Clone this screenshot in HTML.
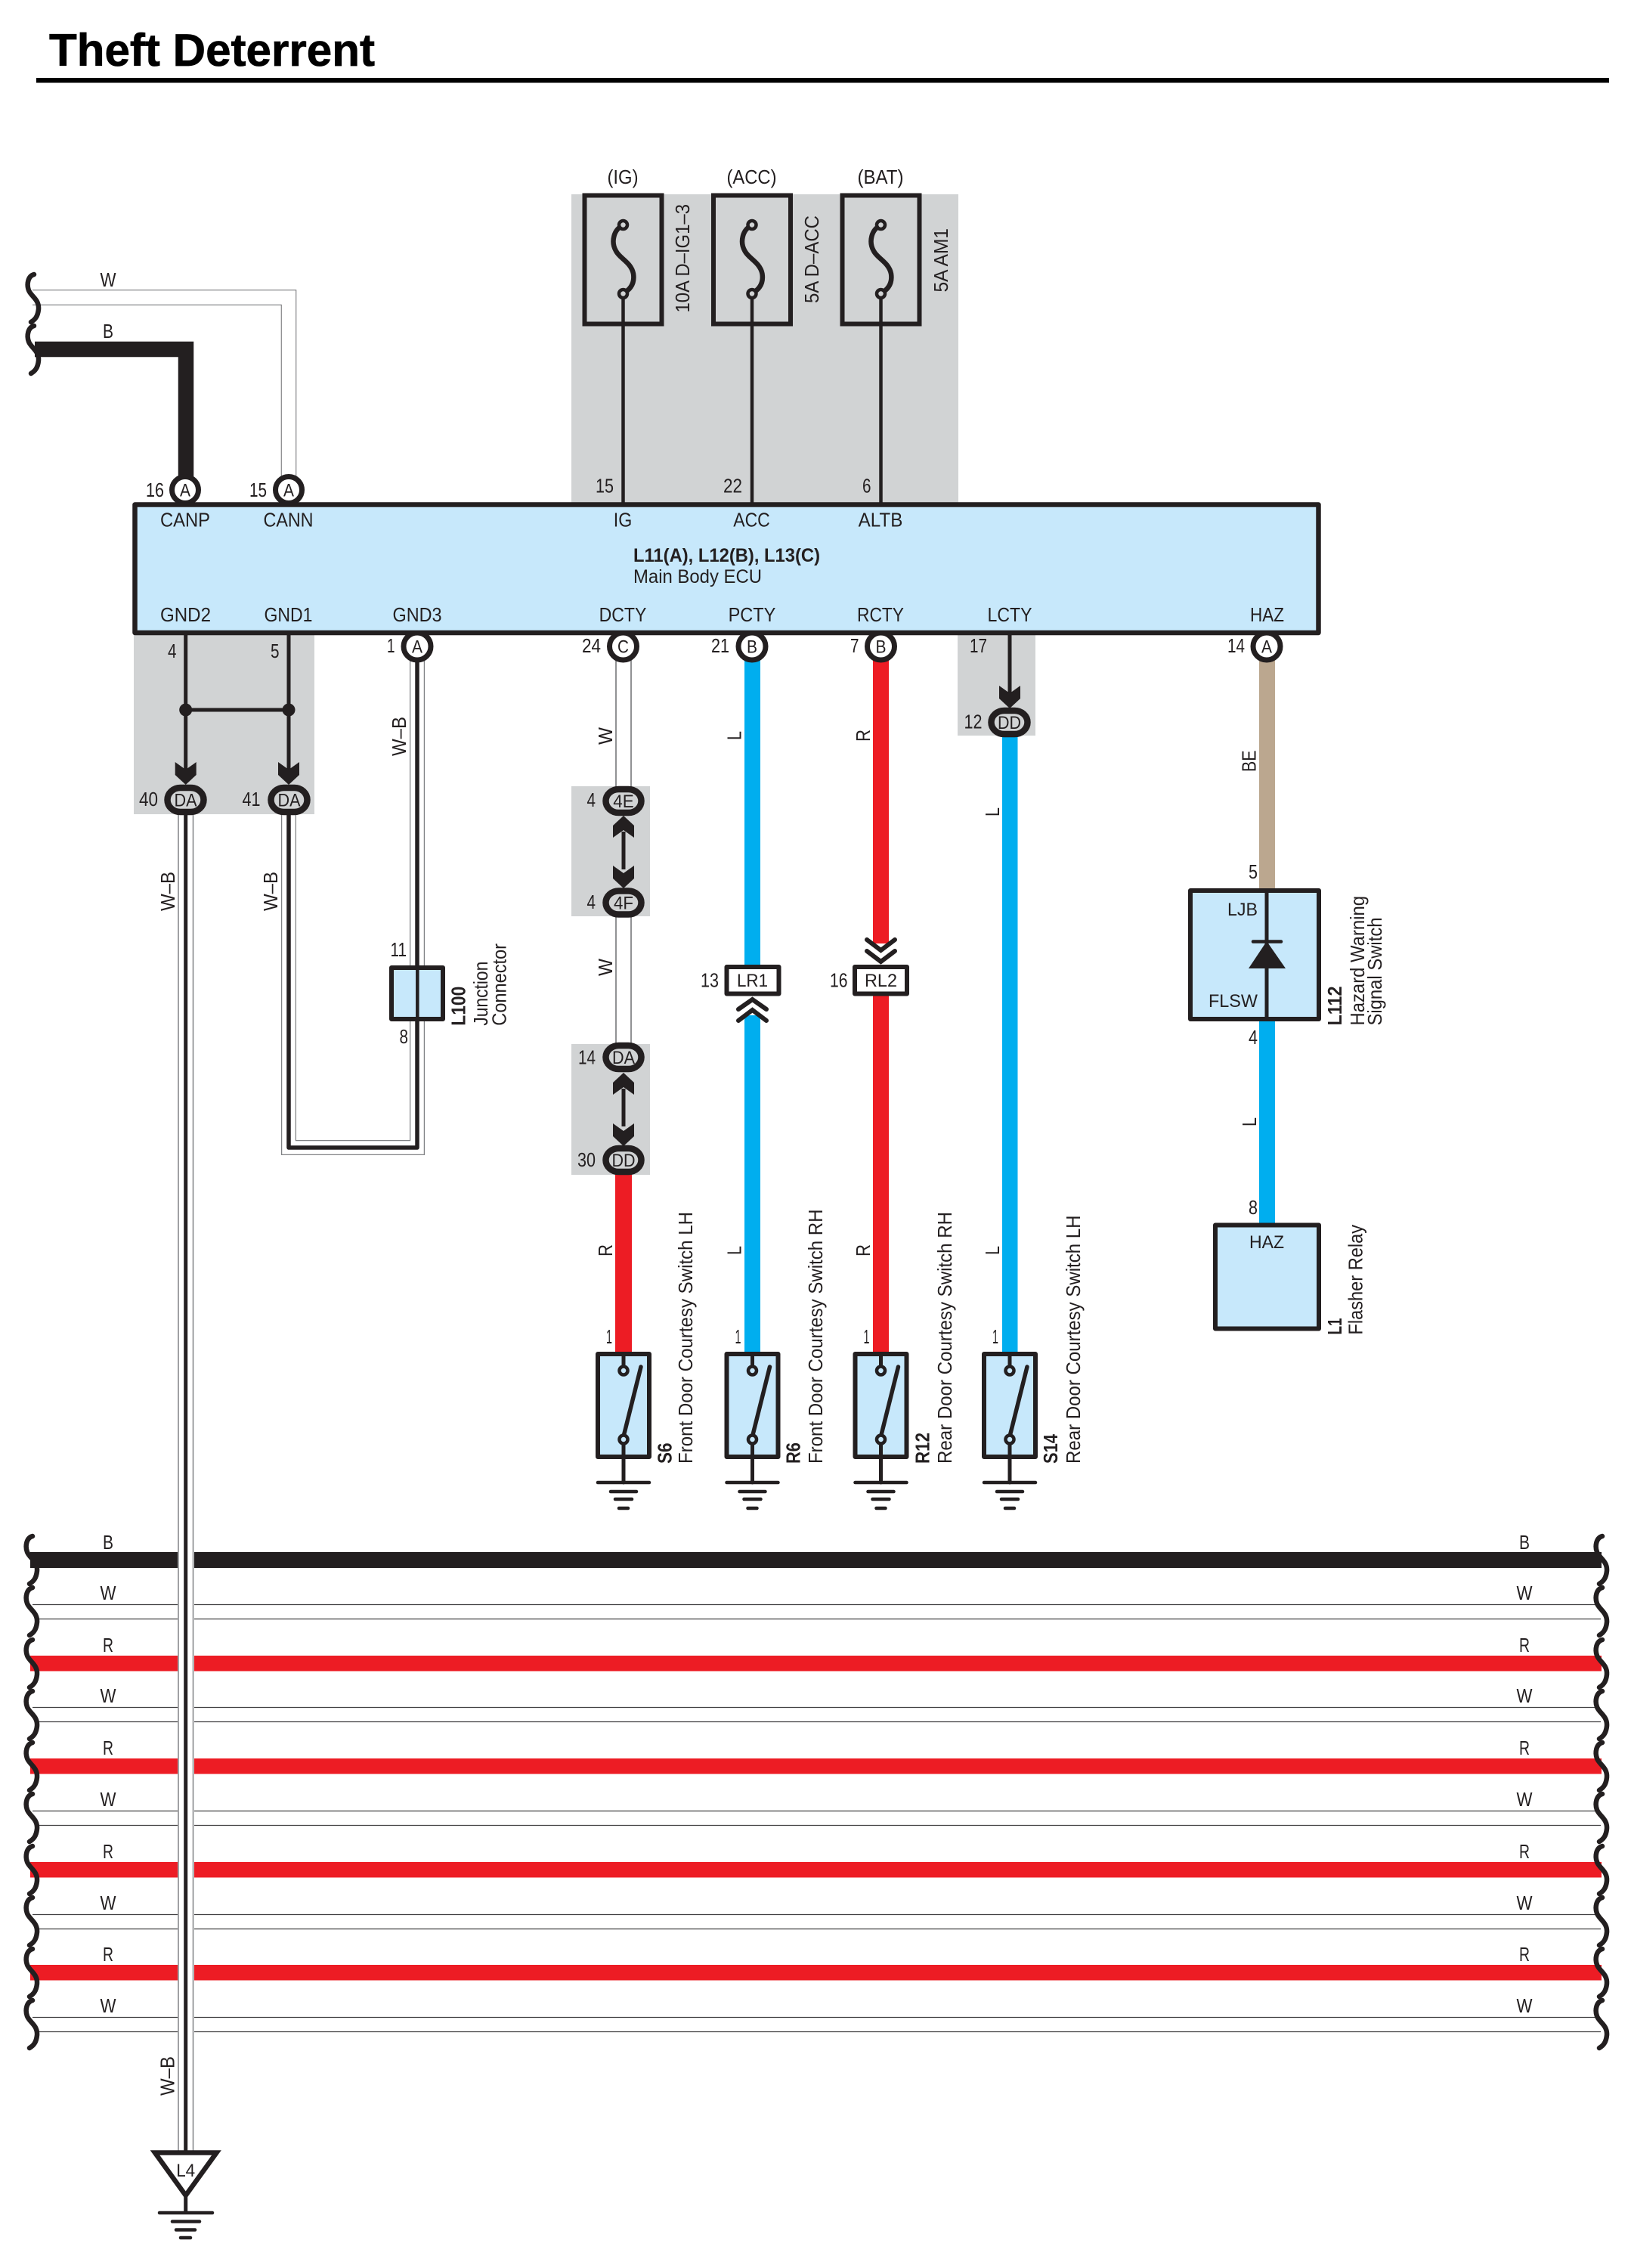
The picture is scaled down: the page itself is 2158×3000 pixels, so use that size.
<!DOCTYPE html>
<html><head><meta charset="utf-8"><title>Theft Deterrent</title>
<style>
html,body{margin:0;padding:0;background:#fff}
svg{display:block}
text{font-family:"Liberation Sans",sans-serif;font-size:26px;fill:#231f20}
.m{text-anchor:middle}
.e{text-anchor:end}
.b{font-weight:bold}
.s{font-size:25px}
.c{font-size:24px}
</style></head><body>
<svg xmlns="http://www.w3.org/2000/svg" width="2158" height="3000" viewBox="0 0 2158 3000">
<defs>
<path id="sq" d="M10,1 C2,3 0,14 3,22 C6,30 17,34 16,47 C15,57 11,61 6,64" fill="none" stroke="#231f20" stroke-width="6.5" stroke-linecap="round"/>
<g id="gnd" stroke="#231f20" fill="none" stroke-linecap="round">
<line x1="0" y1="0" x2="0" y2="21" stroke-width="5"/>
<line x1="-34" y1="21" x2="34" y2="21" stroke-width="4.5"/>
<line x1="-17" y1="33" x2="17" y2="33" stroke-width="4.5"/>
<line x1="-11" y1="43" x2="11" y2="43" stroke-width="4.5"/>
<line x1="-6" y1="55" x2="6" y2="55" stroke-width="4.5"/>
</g>
<g id="sw">
<rect x="791" y="1791" width="68" height="136" fill="#c7e8fb" stroke="#231f20" stroke-width="6" stroke-linejoin="round"/>
<line x1="825" y1="1788" x2="825" y2="1808" stroke="#231f20" stroke-width="5"/>
<circle cx="825" cy="1813" r="5.5" fill="#c7e8fb" stroke="#231f20" stroke-width="4.5"/>
<line x1="825" y1="1900" x2="848" y2="1808" stroke="#231f20" stroke-width="5.5" stroke-linecap="round"/>
<line x1="825" y1="1909" x2="825" y2="1940" stroke="#231f20" stroke-width="5"/>
<circle cx="825" cy="1904" r="5.5" fill="#c7e8fb" stroke="#231f20" stroke-width="4.5"/>
<use href="#gnd" x="825" y="1940"/>
</g>
<polygon id="ad" points="-14,0 0,10 14,0 14,17 0,30 -14,17" fill="#231f20"/>
<polygon id="au" points="0,0 14,13 14,29 0,19 -14,29 -14,13" fill="#231f20"/>
</defs>

<!-- title -->
<text x="65" y="87" class="b" style="font-size:60px;fill:#000;stroke:#000;stroke-width:.7" textLength="431" lengthAdjust="spacingAndGlyphs">Theft Deterrent</text>
<rect x="48" y="103" width="2081" height="6.5" fill="#000"/>

<!-- gray zones -->
<g fill="#d1d3d4">
<rect x="756" y="257" width="512" height="410"/>
<rect x="177" y="837" width="239" height="240"/>
<rect x="1267" y="837" width="103" height="136"/>
<rect x="756" y="1040" width="104" height="172"/>
<rect x="756" y="1381" width="104" height="173"/>
</g>

<!-- top-left wires -->
<path d="M43,393.5 H382 V630" fill="none" stroke="#6d6e71" stroke-width="20.5"/>
<path d="M40,393.5 H382 V632" fill="none" stroke="#fff" stroke-width="18.5"/>
<rect x="30" y="380" width="12" height="30" fill="#fff"/>
<path d="M46,462 H246 V635" fill="none" stroke="#231f20" stroke-width="20.5"/>
<use href="#sq" x="35" y="362"/>
<use href="#sq" x="35" y="430"/>
<text x="143" y="379" class="m" textLength="21" lengthAdjust="spacingAndGlyphs">W</text>
<text x="143" y="447" class="m" textLength="14" lengthAdjust="spacingAndGlyphs">B</text>

<!-- fuse -->
<g fill="none" stroke="#231f20">
<rect x="773.5" y="258.5" width="102" height="170" stroke-width="6"/>
<rect x="944" y="258.5" width="102" height="170" stroke-width="6"/>
<rect x="1114.5" y="258.5" width="102" height="170" stroke-width="6"/>
<g stroke-width="4.5">
<line x1="824.5" y1="388" x2="824.5" y2="666"/>
<line x1="995" y1="388" x2="995" y2="666"/>
<line x1="1165.5" y1="388" x2="1165.5" y2="666"/>
</g>
<g id="f1" stroke-width="6.5">
<path d="M824.5,298 C812,303 808,320 815,332 C820,342 835,347 838,362 C840,375 834,383 824.5,388"/>
<circle cx="824.5" cy="297.5" r="5.5" fill="#d1d3d4" stroke-width="4.5"/>
<circle cx="824.5" cy="388.5" r="5.5" fill="#d1d3d4" stroke-width="4.5"/>
</g>
<use href="#f1" x="170.5"/>
<use href="#f1" x="341"/>
</g>
<text x="824" y="243" class="m" textLength="41" lengthAdjust="spacingAndGlyphs">(IG)</text>
<text x="994.5" y="243" class="m" textLength="66" lengthAdjust="spacingAndGlyphs">(ACC)</text>
<text x="1165" y="243" class="m" textLength="61" lengthAdjust="spacingAndGlyphs">(BAT)</text>
<text transform="translate(912,413.5) rotate(-90)" textLength="143.5" lengthAdjust="spacingAndGlyphs">10A D–IG1–3</text>
<text transform="translate(1083,401) rotate(-90)" textLength="116" lengthAdjust="spacingAndGlyphs">5A D–ACC</text>
<text transform="translate(1254,386.5) rotate(-90)" textLength="84.5" lengthAdjust="spacingAndGlyphs">5A AM1</text>

<!-- wires down from ECU -->
<g stroke="#231f20" stroke-width="5">
<line x1="245.7" y1="838" x2="245.7" y2="1030"/>
<line x1="382" y1="838" x2="382" y2="1030"/>
<line x1="245.7" y1="939" x2="382" y2="939"/>
<line x1="1336" y1="838" x2="1336" y2="920"/>
</g>
<circle cx="245.7" cy="939" r="8.5" fill="#231f20"/>
<circle cx="382" cy="939" r="8.5" fill="#231f20"/>

<!-- color wires -->
<rect x="985" y="870" width="21" height="410" fill="#00aeef"/>
<rect x="985" y="1343" width="21" height="447" fill="#00aeef"/>
<rect x="1155" y="870" width="21" height="378" fill="#ed1c24"/>
<rect x="1155" y="1310" width="21" height="480" fill="#ed1c24"/>
<rect x="1326" y="970" width="20.5" height="820" fill="#00aeef"/>
<rect x="814" y="1550" width="22" height="240" fill="#ed1c24"/>
<rect x="1666" y="870" width="21" height="306" fill="#bba78f"/>
<rect x="1666" y="1350" width="21" height="268" fill="#00aeef"/>
<!-- W wire DCTY -->
<rect x="815" y="870" width="20" height="175" fill="#fff" stroke="#6d6e71" stroke-width="1.5"/>
<rect x="815" y="1205" width="20" height="182" fill="#fff" stroke="#6d6e71" stroke-width="1.5"/>
<line x1="825" y1="1100" x2="825" y2="1150" stroke="#231f20" stroke-width="5"/>
<line x1="825" y1="1440" x2="825" y2="1490" stroke="#231f20" stroke-width="5"/>

<!-- W-B loop GND1 - GND3 -->
<path d="M382,1078 V1518 H552 V870" fill="none" stroke="#808285" stroke-width="20"/>
<path d="M382,1078 V1518 H552 V870" fill="none" stroke="#fff" stroke-width="17.5"/>
<path d="M382,1078 V1518 H552 V870" fill="none" stroke="#231f20" stroke-width="5.5" stroke-linejoin="round"/>

<!-- L100 -->
<rect x="518" y="1280" width="68" height="68" fill="#c7e8fb" stroke="#231f20" stroke-width="6" stroke-linejoin="round"/>
<line x1="552.3" y1="1277" x2="552.3" y2="1350" stroke="#231f20" stroke-width="4.5"/>
<text x="516.5" y="1265" textLength="21.5" lengthAdjust="spacingAndGlyphs">11</text>
<text x="528.5" y="1380" textLength="11.5" lengthAdjust="spacingAndGlyphs">8</text>
<text transform="translate(615.5,1356.7) rotate(-90)" class="b" textLength="52" lengthAdjust="spacingAndGlyphs">L100</text>
<text transform="translate(645,1356.7) rotate(-90)" textLength="85" lengthAdjust="spacingAndGlyphs">Junction</text>
<text transform="translate(669.7,1356.7) rotate(-90)" textLength="108.7" lengthAdjust="spacingAndGlyphs">Connector</text>

<!-- horizontal bundle -->
<g>
<rect x="40" y="2053" width="195" height="21" fill="#231f20"/><rect x="257" y="2053" width="1862" height="21" fill="#231f20"/>
<g fill="#ed1c24">
<rect x="40" y="2190" width="195" height="20.5"/><rect x="257" y="2190" width="1862" height="20.5"/>
<rect x="40" y="2326" width="195" height="20.5"/><rect x="257" y="2326" width="1862" height="20.5"/>
<rect x="40" y="2463" width="195" height="20.5"/><rect x="257" y="2463" width="1862" height="20.5"/>
<rect x="40" y="2599" width="195" height="20.5"/><rect x="257" y="2599" width="1862" height="20.5"/>
</g>
<g stroke="#414042" stroke-width="1.2">
<path d="M43,2122.5H235M257,2122.5H2112M50,2141.5H235M257,2141.5H2118"/>
<path d="M43,2258.5H235M257,2258.5H2112M50,2277.5H235M257,2277.5H2118"/>
<path d="M43,2395.5H235M257,2395.5H2112M50,2414.5H235M257,2414.5H2118"/>
<path d="M43,2532.5H235M257,2532.5H2112M50,2551.5H235M257,2551.5H2118"/>
<path d="M43,2668.5H235M257,2668.5H2112M50,2687.5H235M257,2687.5H2118"/>
</g>
</g>
<g id="sqs">
<use href="#sq" x="33" y="2031"/><use href="#sq" x="33" y="2099"/><use href="#sq" x="33" y="2168"/><use href="#sq" x="33" y="2236"/><use href="#sq" x="33" y="2304"/>
<use href="#sq" x="33" y="2372"/><use href="#sq" x="33" y="2441"/><use href="#sq" x="33" y="2509"/><use href="#sq" x="33" y="2577"/><use href="#sq" x="33" y="2645"/>
</g>
<use href="#sqs" x="2077"/>
<g>
<text x="143" y="2049" class="m" textLength="14" lengthAdjust="spacingAndGlyphs">B</text>
<text x="143" y="2116" class="m" textLength="21" lengthAdjust="spacingAndGlyphs">W</text>
<text x="143" y="2185" class="m" textLength="14" lengthAdjust="spacingAndGlyphs">R</text>
<text x="143" y="2252" class="m" textLength="21" lengthAdjust="spacingAndGlyphs">W</text>
<text x="143" y="2321" class="m" textLength="14" lengthAdjust="spacingAndGlyphs">R</text>
<text x="143" y="2389" class="m" textLength="21" lengthAdjust="spacingAndGlyphs">W</text>
<text x="143" y="2458" class="m" textLength="14" lengthAdjust="spacingAndGlyphs">R</text>
<text x="143" y="2526" class="m" textLength="21" lengthAdjust="spacingAndGlyphs">W</text>
<text x="143" y="2594" class="m" textLength="14" lengthAdjust="spacingAndGlyphs">R</text>
<text x="143" y="2662" class="m" textLength="21" lengthAdjust="spacingAndGlyphs">W</text>
<text x="2017" y="2049" class="m" textLength="14" lengthAdjust="spacingAndGlyphs">B</text>
<text x="2017" y="2116" class="m" textLength="21" lengthAdjust="spacingAndGlyphs">W</text>
<text x="2017" y="2185" class="m" textLength="14" lengthAdjust="spacingAndGlyphs">R</text>
<text x="2017" y="2252" class="m" textLength="21" lengthAdjust="spacingAndGlyphs">W</text>
<text x="2017" y="2321" class="m" textLength="14" lengthAdjust="spacingAndGlyphs">R</text>
<text x="2017" y="2389" class="m" textLength="21" lengthAdjust="spacingAndGlyphs">W</text>
<text x="2017" y="2458" class="m" textLength="14" lengthAdjust="spacingAndGlyphs">R</text>
<text x="2017" y="2526" class="m" textLength="21" lengthAdjust="spacingAndGlyphs">W</text>
<text x="2017" y="2594" class="m" textLength="14" lengthAdjust="spacingAndGlyphs">R</text>
<text x="2017" y="2662" class="m" textLength="21" lengthAdjust="spacingAndGlyphs">W</text>
</g>

<!-- long W-B wire -->
<rect x="236" y="1075" width="19.5" height="1772" fill="#fff" stroke="#808285" stroke-width="1.5"/>
<rect x="243.2" y="1075" width="5" height="1772" fill="#231f20"/>
<!-- L4 ground -->
<polygon points="205,2847.5 286.5,2847.5 245.7,2904" fill="#fff" stroke="#231f20" stroke-width="6.5" stroke-linejoin="miter"/>
<line x1="245.7" y1="2906" x2="245.7" y2="2927" stroke="#231f20" stroke-width="5"/>
<g stroke="#231f20" stroke-width="4.5" stroke-linecap="round">
<line x1="211" y1="2927" x2="281" y2="2927"/>
<line x1="228" y1="2938.5" x2="264" y2="2938.5"/>
<line x1="233" y1="2949.5" x2="258" y2="2949.5"/>
<line x1="239" y1="2960" x2="252" y2="2960"/>
</g>
<text x="245.7" y="2879" class="m c" textLength="25" lengthAdjust="spacingAndGlyphs">L4</text>
<text transform="translate(230.7,2772) rotate(-90)" textLength="52" lengthAdjust="spacingAndGlyphs">W–B</text>
<text transform="translate(231,1205) rotate(-90)" textLength="52" lengthAdjust="spacingAndGlyphs">W–B</text>
<text transform="translate(367,1205) rotate(-90)" textLength="52" lengthAdjust="spacingAndGlyphs">W–B</text>
<text transform="translate(537,1000) rotate(-90)" textLength="52" lengthAdjust="spacingAndGlyphs">W–B</text>

<!-- round connectors (behind ECU edges) -->
<g fill="#fff" stroke="#231f20" stroke-width="7">
<circle cx="245" cy="648" r="17.5"/>
<circle cx="382" cy="648" r="17.5"/>
<circle cx="552" cy="855" r="18"/>
<circle cx="824.5" cy="855" r="18"/>
<circle cx="995" cy="855" r="18"/>
<circle cx="1165.5" cy="855" r="18"/>
<circle cx="1676" cy="855" r="18"/>
</g>

<!-- ECU -->
<rect x="178.5" y="667.5" width="1566" height="169.5" fill="#c7e8fb" stroke="#231f20" stroke-width="6.5" stroke-linejoin="round"/>
<text x="245" y="696.5" class="m" textLength="66" lengthAdjust="spacingAndGlyphs">CANP</text>
<text x="381.5" y="696.5" class="m" textLength="66" lengthAdjust="spacingAndGlyphs">CANN</text>
<text x="824" y="696.5" class="m" textLength="24.5" lengthAdjust="spacingAndGlyphs">IG</text>
<text x="994.5" y="696.5" class="m" textLength="48.5" lengthAdjust="spacingAndGlyphs">ACC</text>
<text x="1165" y="696.5" class="m" textLength="58.7" lengthAdjust="spacingAndGlyphs">ALTB</text>
<text x="838" y="743" class="b" style="font-size:25px" textLength="247" lengthAdjust="spacingAndGlyphs">L11(A), L12(B), L13(C)</text>
<text x="838" y="771" style="font-size:25px" textLength="170" lengthAdjust="spacingAndGlyphs">Main Body ECU</text>
<text x="245.5" y="822" class="m" textLength="67" lengthAdjust="spacingAndGlyphs">GND2</text>
<text x="381.5" y="822" class="m" textLength="64" lengthAdjust="spacingAndGlyphs">GND1</text>
<text x="552" y="822" class="m" textLength="65" lengthAdjust="spacingAndGlyphs">GND3</text>
<text x="824" y="822" class="m" textLength="62.8" lengthAdjust="spacingAndGlyphs">DCTY</text>
<text x="995" y="822" class="m" textLength="62.8" lengthAdjust="spacingAndGlyphs">PCTY</text>
<text x="1165" y="822" class="m" textLength="62" lengthAdjust="spacingAndGlyphs">RCTY</text>
<text x="1336" y="822" class="m" textLength="59" lengthAdjust="spacingAndGlyphs">LCTY</text>
<text x="1676.5" y="822" class="m" textLength="45" lengthAdjust="spacingAndGlyphs">HAZ</text>

<!-- pin numbers -->
<g>
<text x="193" y="657" textLength="24" lengthAdjust="spacingAndGlyphs">16</text>
<text x="330" y="657" textLength="23" lengthAdjust="spacingAndGlyphs">15</text>
<text x="788" y="651.5" textLength="24" lengthAdjust="spacingAndGlyphs">15</text>
<text x="957" y="651.5" textLength="25" lengthAdjust="spacingAndGlyphs">22</text>
<text x="1141" y="651.5" textLength="11.5" lengthAdjust="spacingAndGlyphs">6</text>
<text x="222" y="870" textLength="11.5" lengthAdjust="spacingAndGlyphs">4</text>
<text x="358" y="870" textLength="11.5" lengthAdjust="spacingAndGlyphs">5</text>
<text x="512" y="863" textLength="10.5" lengthAdjust="spacingAndGlyphs">1</text>
<text x="770" y="863" textLength="25" lengthAdjust="spacingAndGlyphs">24</text>
<text x="941" y="863" textLength="24" lengthAdjust="spacingAndGlyphs">21</text>
<text x="1125" y="863" textLength="11.5" lengthAdjust="spacingAndGlyphs">7</text>
<text x="1283" y="863" textLength="23" lengthAdjust="spacingAndGlyphs">17</text>
<text x="1624" y="863" textLength="23" lengthAdjust="spacingAndGlyphs">14</text>
<text x="184" y="1066" textLength="25" lengthAdjust="spacingAndGlyphs">40</text>
<text x="320.5" y="1066" textLength="24" lengthAdjust="spacingAndGlyphs">41</text>
<text x="1275.5" y="963.5" textLength="24" lengthAdjust="spacingAndGlyphs">12</text>
<text x="776.5" y="1067" textLength="11.5" lengthAdjust="spacingAndGlyphs">4</text>
<text x="776.5" y="1202" textLength="11.5" lengthAdjust="spacingAndGlyphs">4</text>
<text x="765" y="1407.5" textLength="23" lengthAdjust="spacingAndGlyphs">14</text>
<text x="764" y="1543" textLength="24" lengthAdjust="spacingAndGlyphs">30</text>
<text x="927" y="1305.5" textLength="24" lengthAdjust="spacingAndGlyphs">13</text>
<text x="1098" y="1305.5" textLength="23.5" lengthAdjust="spacingAndGlyphs">16</text>
<text x="1652" y="1162" textLength="12" lengthAdjust="spacingAndGlyphs">5</text>
<text x="1652" y="1381" textLength="12" lengthAdjust="spacingAndGlyphs">4</text>
<text x="1652" y="1606" textLength="12" lengthAdjust="spacingAndGlyphs">8</text>
<text x="802" y="1777" textLength="8" lengthAdjust="spacingAndGlyphs">1</text>
<text x="972.5" y="1777" textLength="8" lengthAdjust="spacingAndGlyphs">1</text>
<text x="1142.5" y="1777" textLength="8" lengthAdjust="spacingAndGlyphs">1</text>
<text x="1313" y="1777" textLength="8" lengthAdjust="spacingAndGlyphs">1</text>
</g>

<g>
<text x="245" y="656.5" class="m c" textLength="14" lengthAdjust="spacingAndGlyphs">A</text>
<text x="382" y="656.5" class="m c" textLength="14" lengthAdjust="spacingAndGlyphs">A</text>
<text x="552" y="863.5" class="m c" textLength="14" lengthAdjust="spacingAndGlyphs">A</text>
<text x="824.5" y="863.5" class="m c" textLength="15" lengthAdjust="spacingAndGlyphs">C</text>
<text x="995" y="863.5" class="m c" textLength="14" lengthAdjust="spacingAndGlyphs">B</text>
<text x="1165.5" y="863.5" class="m c" textLength="14" lengthAdjust="spacingAndGlyphs">B</text>
<text x="1676" y="863.5" class="m c" textLength="14" lengthAdjust="spacingAndGlyphs">A</text>
</g>

<!-- arrows -->
<use href="#ad" x="245.7" y="1008"/>
<use href="#ad" x="382" y="1008"/>
<use href="#ad" x="1336" y="907"/>
<use href="#au" x="825" y="1079"/>
<use href="#ad" x="825" y="1145"/>
<use href="#au" x="825" y="1419"/>
<use href="#ad" x="825" y="1486"/>

<!-- ovals -->
<g fill="#d1d3d4" stroke="#231f20" stroke-width="8.5">
<rect x="221.5" y="1042" width="48" height="32" rx="17" ry="16"/>
<rect x="358.5" y="1042" width="48" height="32" rx="17" ry="16"/>
<rect x="1311.5" y="940" width="48" height="31" rx="17" ry="15.5"/>
<rect x="801.5" y="1044" width="47" height="31" rx="17" ry="15.5"/>
<rect x="801.5" y="1178.5" width="47" height="31" rx="17" ry="15.5"/>
<rect x="801.5" y="1383" width="47" height="31" rx="17" ry="15.5"/>
<rect x="801.5" y="1519" width="47" height="31" rx="17" ry="15.5"/>
</g>
<text x="245.5" y="1066.5" class="m c" textLength="30" lengthAdjust="spacingAndGlyphs">DA</text>
<text x="382.5" y="1066.5" class="m c" textLength="30" lengthAdjust="spacingAndGlyphs">DA</text>
<text x="1335.5" y="964" class="m c" textLength="31" lengthAdjust="spacingAndGlyphs">DD</text>
<text x="825" y="1068" class="m c" textLength="27.5" lengthAdjust="spacingAndGlyphs">4E</text>
<text x="825" y="1202.5" class="m c" textLength="26" lengthAdjust="spacingAndGlyphs">4F</text>
<text x="825" y="1407" class="m c" textLength="30" lengthAdjust="spacingAndGlyphs">DA</text>
<text x="825" y="1543" class="m c" textLength="31" lengthAdjust="spacingAndGlyphs">DD</text>

<!-- LR1 / RL2 -->
<rect x="961.5" y="1279" width="69" height="35.5" fill="#fff" stroke="#231f20" stroke-width="6" stroke-linejoin="round"/>
<rect x="1131" y="1279" width="69" height="35.5" fill="#fff" stroke="#231f20" stroke-width="6" stroke-linejoin="round"/>
<text x="995.5" y="1305" class="m c" textLength="41" lengthAdjust="spacingAndGlyphs">LR1</text>
<text x="1165.5" y="1305" class="m c" textLength="43" lengthAdjust="spacingAndGlyphs">RL2</text>
<g fill="none" stroke="#231f20" stroke-width="6" stroke-linecap="round">
<path d="M977,1335 L995.5,1322 L1014,1335"/>
<path d="M977,1350 L995.5,1336 L1014,1350"/>
<path d="M1147,1243 L1165.5,1257 L1184,1243"/>
<path d="M1147,1258 L1165.5,1272 L1184,1258"/>
</g>

<!-- wire labels -->
<text transform="translate(810,985) rotate(-90)" textLength="23" lengthAdjust="spacingAndGlyphs">W</text>
<text transform="translate(810,1291) rotate(-90)" textLength="23" lengthAdjust="spacingAndGlyphs">W</text>
<text transform="translate(810,1662) rotate(-90)" textLength="16" lengthAdjust="spacingAndGlyphs">R</text>
<text transform="translate(980.6,979) rotate(-90)" textLength="12" lengthAdjust="spacingAndGlyphs">L</text>
<text transform="translate(980.6,1660) rotate(-90)" textLength="12" lengthAdjust="spacingAndGlyphs">L</text>
<text transform="translate(1151,981) rotate(-90)" textLength="16" lengthAdjust="spacingAndGlyphs">R</text>
<text transform="translate(1151,1662) rotate(-90)" textLength="16" lengthAdjust="spacingAndGlyphs">R</text>
<text transform="translate(1322,1080) rotate(-90)" textLength="12" lengthAdjust="spacingAndGlyphs">L</text>
<text transform="translate(1322,1660) rotate(-90)" textLength="12" lengthAdjust="spacingAndGlyphs">L</text>
<text transform="translate(1661.7,1021) rotate(-90)" textLength="28.5" lengthAdjust="spacingAndGlyphs">BE</text>
<text transform="translate(1662,1490) rotate(-90)" textLength="12" lengthAdjust="spacingAndGlyphs">L</text>

<!-- switches -->
<use href="#sw"/>
<use href="#sw" x="170.5"/>
<use href="#sw" x="340.5"/>
<use href="#sw" x="511"/>
<text transform="translate(888.5,1936) rotate(-90)" class="b" textLength="27.5" lengthAdjust="spacingAndGlyphs">S6</text>
<text transform="translate(916,1936) rotate(-90)" textLength="333" lengthAdjust="spacingAndGlyphs">Front Door Courtesy Switch LH</text>
<text transform="translate(1058.7,1936) rotate(-90)" class="b" textLength="28" lengthAdjust="spacingAndGlyphs">R6</text>
<text transform="translate(1088,1936) rotate(-90)" textLength="336.5" lengthAdjust="spacingAndGlyphs">Front Door Courtesy Switch RH</text>
<text transform="translate(1229.6,1936) rotate(-90)" class="b" textLength="41" lengthAdjust="spacingAndGlyphs">R12</text>
<text transform="translate(1259,1936) rotate(-90)" textLength="333" lengthAdjust="spacingAndGlyphs">Rear Door Courtesy Switch RH</text>
<text transform="translate(1399,1936) rotate(-90)" class="b" textLength="39" lengthAdjust="spacingAndGlyphs">S14</text>
<text transform="translate(1429,1936) rotate(-90)" textLength="328.5" lengthAdjust="spacingAndGlyphs">Rear Door Courtesy Switch LH</text>

<!-- L112 -->
<rect x="1575" y="1178" width="170" height="170" fill="#c7e8fb" stroke="#231f20" stroke-width="6" stroke-linejoin="round"/>
<line x1="1676" y1="1176" x2="1676" y2="1350" stroke="#231f20" stroke-width="5"/>
<line x1="1658" y1="1245.5" x2="1695" y2="1245.5" stroke="#231f20" stroke-width="4.5" stroke-linecap="round"/>
<polygon points="1676,1245 1701,1281 1652,1281" fill="#231f20"/>
<text x="1664" y="1211" class="e" style="font-size:24px" textLength="40" lengthAdjust="spacingAndGlyphs">LJB</text>
<text x="1664" y="1332" class="e" style="font-size:24px" textLength="65" lengthAdjust="spacingAndGlyphs">FLSW</text>
<text transform="translate(1775,1356.5) rotate(-90)" class="b" textLength="52" lengthAdjust="spacingAndGlyphs">L112</text>
<text transform="translate(1805,1356.5) rotate(-90)" textLength="171.5" lengthAdjust="spacingAndGlyphs">Hazard Warning</text>
<text transform="translate(1828,1356.5) rotate(-90)" textLength="143" lengthAdjust="spacingAndGlyphs">Signal Switch</text>

<!-- L1 -->
<rect x="1608" y="1620.5" width="137" height="137" fill="#c7e8fb" stroke="#231f20" stroke-width="6" stroke-linejoin="round"/>
<text x="1676" y="1651" class="m" style="font-size:24px" textLength="46" lengthAdjust="spacingAndGlyphs">HAZ</text>
<text transform="translate(1775,1765.5) rotate(-90)" class="b" textLength="22" lengthAdjust="spacingAndGlyphs">L1</text>
<text transform="translate(1802.5,1765.5) rotate(-90)" textLength="145.5" lengthAdjust="spacingAndGlyphs">Flasher Relay</text>
</svg>
</body></html>
